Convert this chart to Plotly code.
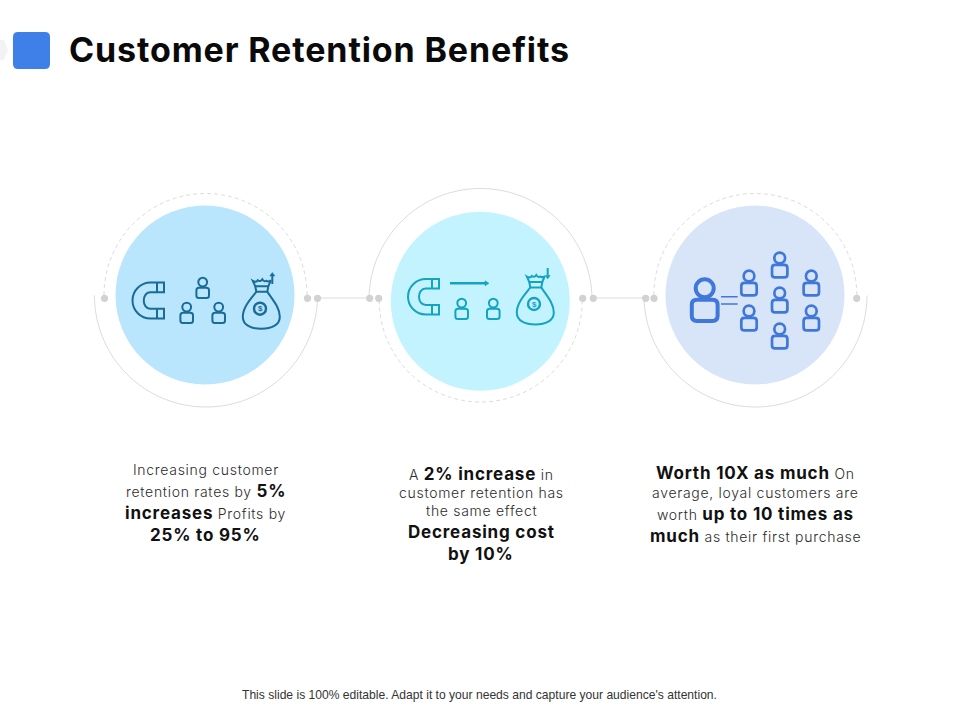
import numpy as np
import plotly.graph_objects as go

title = "Customer Retention Benefits"
footer = "This slide is 100% editable. Adapt it to your needs and capture your audience's attention."

text_left = ["Increasing customer", "retention rates by <b>5%</b>", "<b>increases</b> Profits by", "<b>25% to 95%</b>"]
text_mid = ["A <b>2% increase</b> in", "customer retention has", "the same effect", "<b>Decreasing cost</b>", "<b>by 10%</b>"]
text_right = ["<b>Worth 10X as much</b> On", "average, loyal customers are", "worth <b>up to 10 times as</b>", "<b>much</b> as their first purchase"]

BODY_FONT = "Inter"
GREY = "#d2d2d2"
LINE = "#dcdcdc"


def arc(cx, cy, r, a0, a1):
	# plotly paths have no arc command so sample it
	t = np.radians(np.linspace(a0, a1, 90))
	pts = ["%.2f,%.2f" % (cx + r * np.cos(a), cy + r * np.sin(a)) for a in t]
	return "M" + " L".join(pts)


shapes = []
annotations = []


def path(d, color, width=1.5, fill=None, dash=None):
	shapes.append(dict(type="path", path=d, xref="x", yref="y", fillcolor=fill,
		line=dict(color=color, width=width, dash=dash)))


def circle(cx, cy, r, fill=None, color=None, width=0):
	shapes.append(dict(type="circle", xref="x", yref="y", x0=cx - r, x1=cx + r, y0=cy - r, y1=cy + r,
		fillcolor=fill, line=dict(color=color, width=width)))


def label(x, y, s, size, color="#222222", family=BODY_FONT, anchor="center", weight=None):
	annotations.append(dict(x=x, y=y, xref="x", yref="y", text=s, showarrow=False, xanchor=anchor, yanchor="middle",
		font=dict(family=family, size=size, color=color, weight=weight)))


def person(cx, top, s, color, width):
	head = 4.4 * s
	circle(cx, top + head, head, color=color, width=width)
	x0, x1 = cx - 6.3 * s, cx + 6.3 * s
	y0, y1 = top + 10 * s, top + 20.3 * s
	r = 2.5 * s
	d = f"M{x0 + r},{y0} L{x1 - r},{y0} Q{x1},{y0} {x1},{y0 + r} L{x1},{y1 - r} Q{x1},{y1} {x1 - r},{y1} L{x0 + r},{y1} Q{x0},{y1} {x0},{y1 - r} L{x0},{y0 + r} Q{x0},{y0} {x0 + r},{y0} Z"
	path(d, color, width)


def magnet(x0, y0, w, h, color):
	x1, y1, t = x0 + w, y0 + h, h * 0.27
	xa = x0 + h / 2
	k = h / 2 * 0.55
	d = (f"M{x1},{y0} L{xa},{y0} C{xa - k * 1.0},{y0} {x0},{y0 + h / 2 - k} {x0},{y0 + h / 2} "
		f"C{x0},{y0 + h / 2 + k} {xa - k},{y1} {xa},{y1} L{x1},{y1} L{x1},{y1 - t} L{xa},{y1 - t} "
		f"C{xa - 9},{y1 - t} {xa - 9},{y0 + t} {xa},{y0 + t} L{x1},{y0 + t} Z")
	path(d, color, 2)
	path(f"M{x1 - 7},{y0} L{x1 - 7},{y0 + t} M{x1 - 7},{y1} L{x1 - 7},{y1 - t}", color, 2)


def bag(cx, top, coin_x, coin_y, color):
	crown = (f"M{cx - 8.5},{top + 1.5} Q{cx - 5},{top + 3.5} {cx - 3.5},{top + 1} Q{cx - 1},{top + 3} {cx + 1},{top} "
		f"Q{cx + 3},{top + 3} {cx + 5},{top + 1.5} Q{cx + 7},{top + 3} {cx + 9.5},{top + 1} "
		f"L{cx + 7},{top + 7} L{cx - 6},{top + 7} Z")
	path(crown, color, 2)
	path(f"M{cx - 6},{top + 7} L{cx - 5},{top + 12.5} L{cx + 6},{top + 12.5} L{cx + 7},{top + 7}", color, 2)
	body = (f"M{cx - 5},{top + 12.5} C{cx - 11},{top + 20} {cx - 18.5},{top + 28} {cx - 18.5},{top + 37.5} "
		f"C{cx - 18.5},{top + 46} {cx - 10},{top + 49.5} {cx},{top + 49.5} "
		f"C{cx + 10},{top + 49.5} {cx + 18.5},{top + 46} {cx + 18.5},{top + 37.5} "
		f"C{cx + 18.5},{top + 28} {cx + 11},{top + 20} {cx + 6},{top + 12.5}")
	path(body, color, 2)
	circle(coin_x, coin_y, 6, color=color, width=2.4)
	label(coin_x, coin_y, "<b>$</b>", 8, color, family="Liberation Sans")


def arrow(x, y0, y1, color):
	# short vertical arrow, head at y1
	sign = 1 if y1 > y0 else -1
	path(f"M{x},{y0} L{x},{y1 - 2 * sign}", color, 2)
	path(f"M{x - 2.5},{y1 - 3.5 * sign} L{x + 2.5},{y1 - 3.5 * sign} L{x},{y1} Z", color, 0.5, fill=color)


# rings, solid half outside and dashed half inside
path(arc(206, 295.5, 111.5, 0, 180), LINE, 1)
path(arc(205.5, 295, 101.5, 180, 360), LINE, 1, dash="4px,3px")
path(arc(480.5, 300, 111.5, 180, 360), LINE, 1)
path(arc(480.7, 300.5, 101.5, 0, 180), LINE, 1, dash="4px,3px")
path(arc(755.5, 295.5, 111.5, 0, 180), LINE, 1)
path(arc(755.3, 295, 101.5, 180, 360), LINE, 1, dash="4px,3px")

# connectors
path("M318,298 L369,298", LINE, 1)
path("M593,298 L645,298", LINE, 1)
for x in [104.5, 307.5, 317.5, 369.7, 378.7, 582.7, 593.3, 645.7, 654, 856.7]:
	circle(x, 298.3, 3.6, fill=GREY)

# discs
circle(205, 295, 89.5, fill="#b9e5fd")
circle(480.3, 301.2, 89.5, fill="#c2f3ff")
circle(755, 295, 89.5, fill="#d8e5f9")

# header mark
path("M0,40 L4,40 L8,50 L4,60 L0,60 Z", "#f3f3f3", 0, fill="#f3f3f3")
path("M18,32 L45,32 Q50,32 50,37 L50,64 Q50,69 45,69 L18,69 Q13,69 13,64 L13,37 Q13,32 18,32 Z", "#3f7fe8", 0, fill="#3f7fe8")

# left icons
DARK = "#196b98"
magnet(132.5, 282.5, 31.5, 36, DARK)
person(202.7, 277.7, 1, DARK, 2)
person(186.7, 302.7, 1, DARK, 2)
person(218.7, 302.7, 1, DARK, 2)
bag(261.3, 279.3, 260, 308.7, DARK)
arrow(272.3, 284, 272.5, DARK)

# middle icons
TEAL = "#14a3c2"
magnet(408, 279, 31, 35.5, TEAL)
path("M450,283.3 L485,283.3", TEAL, 2.4)
path("M485,280.8 L489,283.3 L485,285.8 Z", TEAL, 0.5, fill=TEAL)
person(461.7, 298.7, 1, TEAL, 2)
person(493.3, 298.7, 1, TEAL, 2)
bag(535.3, 275, 534, 304, TEAL)
arrow(547.7, 268, 279, TEAL)

# right icons
BLUE = "#3f78d8"
person(704.7, 279.3, 2.05, BLUE, 4)
path("M721,296.7 L737.7,296.7 M721,304 L737.7,304", BLUE, 1.5)
for cx, top in zip([749, 749, 779.7, 779.7, 779.7, 811.3, 811.3], [270.7, 305.7, 252.7, 287.7, 323.7, 270.7, 305.7]):
	person(cx, top, 1.22, BLUE, 2.7)


def block(lines, x, ys):
	for s, y in zip(lines, ys):
		# bold words sit a size up from the light text
		s = s.replace("<b>", "<b style='font-size:17px;color:#111;letter-spacing:0.8px'>")
		label(x, y, "<span style='letter-spacing:0.7px'>" + s + "</span>", 14, "#2c2c2c", weight=300)


block(text_left, 205.5, [469.5, 490.5, 513, 535])
block(text_mid, 481, [473.5, 492.5, 510.5, 532, 554])
block(text_right, 755, [473, 492.5, 514, 536])

label(67, 49.5, "<span style='letter-spacing:0.87px'><b>" + title + "</b></span>", 34, "#0a0a0a", anchor="left")
label(479, 694.5, footer, 12.1, "#333333", family="Liberation Sans")

fig = go.Figure()
fig.update_layout(
	width=960, height=720, margin=dict(l=0, r=0, t=0, b=0),
	plot_bgcolor="white", paper_bgcolor="white", showlegend=False,
	xaxis=dict(range=[0, 960], visible=False, fixedrange=True),
	yaxis=dict(range=[720, 0], visible=False, fixedrange=True),
	shapes=shapes, annotations=annotations,
)
fig.write_html("out.html", config=dict(displayModeBar=False), post_script="document.body.style.margin='0';")
